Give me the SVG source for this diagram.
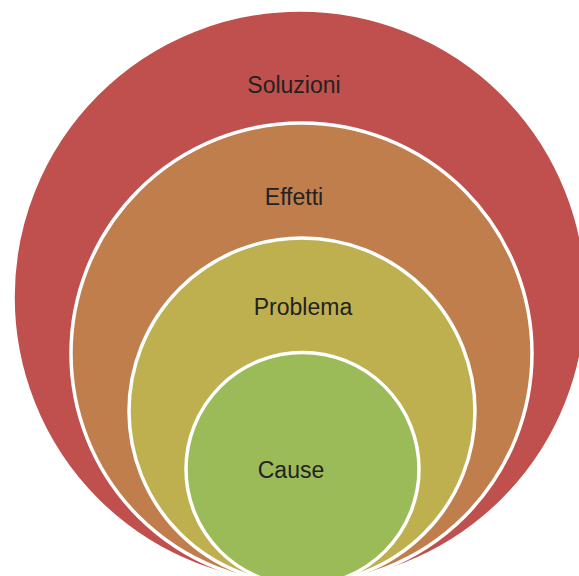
<svg xmlns="http://www.w3.org/2000/svg" width="579" height="576" viewBox="0 0 579 576">
  <style>
    .ring { stroke: #FFFFFF; stroke-width: 3.5; }
    .lbl { font-family: "Liberation Sans", Arial, sans-serif; font-size: 23px; fill: #222222; text-anchor: middle; }
  </style>
  <rect width="579" height="576" fill="#FFFFFF"/>
  <g id="soluzioni">
    <circle class="ring" cx="300" cy="297" r="287" fill="#C0504D"/>
    <text class="lbl" x="294" y="93">Soluzioni</text>
  </g>
  <g id="effetti">
    <circle class="ring" cx="301.5" cy="353.5" r="230.5" fill="#BF7E4C"/>
    <text class="lbl" x="294" y="205">Effetti</text>
  </g>
  <g id="problema">
    <circle class="ring" cx="302" cy="411" r="173" fill="#BEAF4F"/>
    <text class="lbl" x="303" y="315">Problema</text>
  </g>
  <g id="cause">
    <circle class="ring" cx="302.5" cy="469" r="116.5" fill="#9BBB59"/>
    <text class="lbl" x="291" y="478">Cause</text>
  </g>
  <g id="connectors"/>
</svg>
